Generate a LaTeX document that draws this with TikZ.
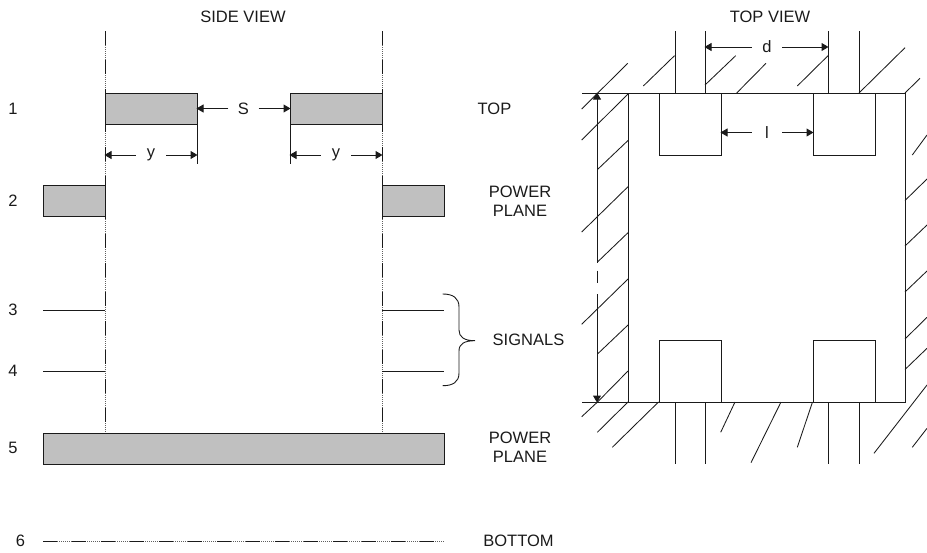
\documentclass[tikz,border=0pt]{standalone}
\usepackage{fontspec}
\setmainfont{Liberation Sans}
\usetikzlibrary{arrows.meta}
\definecolor{plane}{HTML}{C0C0C0}
\definecolor{ink}{HTML}{1A1A1A}
\tikzset{
  ln/.style={draw=ink,line width=1pt},
  hatch/.style={draw=ink,line width=0.85pt},
  gbox/.style={draw=ink,fill=plane,line width=1pt,inner sep=0pt,outer sep=0pt,anchor=north west},
  wbox/.style={draw=ink,line width=1pt,inner sep=0pt,outer sep=0pt,anchor=north west,minimum width=62pt,minimum height=62pt},
  lbl/.style={text=ink,font=\fontsize{16.5}{19}\selectfont,inner sep=0pt,align=center},
  dimlbl/.style={lbl,minimum width=30pt,minimum height=12pt},
  dim/.style={draw=ink,line width=1pt,-{Triangle[length=7pt,width=8pt]},shorten >=-0.5pt},
  fine/.style={draw=ink!70,line width=0.8pt,dash pattern=on 1pt off 1pt},
  coarse/.style={draw=ink,line width=1pt,dash pattern=on 14pt off 15pt}
}
\begin{document}
\begin{tikzpicture}[x=1pt,y=-1pt]
\useasboundingbox (0,0) rectangle (927,552);
% titles and labels
\node[lbl] (tside) at (243,16.5) {SIDE VIEW};
\node[lbl] (ttop) at (770,16.5) {TOP VIEW};
\node[lbl] (n1) at (13,108.5) {1};
\node[lbl] (n2) at (13,201) {2};
\node[lbl] (n3) at (13,310) {3};
\node[lbl] (n4) at (13,371) {4};
\node[lbl] (n5) at (13,448) {5};
\node[lbl] (n6) at (20.5,541) {6};
\node[lbl] (ltop) at (494.5,108.5) {TOP};
\node[lbl] (lpp1) at (520,201) {POWER\\PLANE};
\node[lbl] (lsig) at (528.5,340) {SIGNALS};
\node[lbl] (lpp2) at (520,447.5) {POWER\\PLANE};
\node[lbl] (lbot) at (518.5,541) {BOTTOM};
% side view guides
\coordinate (gl1) at (105,31); \coordinate (gl2) at (105,433);
\coordinate (gr1) at (382,31); \coordinate (gr2) at (382,433);
\draw[fine] (gl1) -- (gl2); \draw[coarse] (gl1) -- (gl2);
\draw[fine] (gr1) -- (gr2); \draw[coarse] (gr1) -- (gr2);
% side view planes
\node[gbox,minimum width=92pt,minimum height=31pt] (b1l) at (105,93) {};
\node[gbox,minimum width=92pt,minimum height=31pt] (b1r) at (290,93) {};
\node[gbox,minimum width=62pt,minimum height=31pt] (b2l) at (43,185) {};
\node[gbox,minimum width=62pt,minimum height=31pt] (b2r) at (382,185) {};
\node[gbox,minimum width=401pt,minimum height=31pt] (b5) at (43,433) {};
% signal lines
\coordinate (s3a) at (43,310); \coordinate (s3b) at (105,310);
\coordinate (s3c) at (382,310); \coordinate (s3d) at (444,310);
\coordinate (s4a) at (43,371); \coordinate (s4b) at (105,371);
\coordinate (s4c) at (382,371); \coordinate (s4d) at (444,371);
\draw[ln] (s3a) -- (s3b); \draw[ln] (s3c) -- (s3d);
\draw[ln] (s4a) -- (s4b); \draw[ln] (s4c) -- (s4d);
% bottom layer
\coordinate (s6a) at (43,541); \coordinate (s6b) at (445,541);
\draw[fine] (s6a) -- (s6b); \draw[coarse] (s6a) -- (s6b);
% brace
\draw[draw=ink,line width=0.9pt] (442.7,294) .. controls (453,294) and (459,298) .. (459,307)
  -- (459,330) .. controls (459,337) and (464,340.7) .. (475,340.7)
  .. controls (464,340.7) and (459,344) .. (459,351)
  -- (459,373) .. controls (459,382) and (453,385.7) .. (442.7,385.7);
% side view dimensions
\node[dimlbl] (S) at (243.5,108.5) {S};
\draw[dim] (S) -- (b1l.east |- S);
\draw[dim] (S) -- (b1r.west |- S);
\coordinate (t1) at (197,164); \coordinate (t2) at (290,164);
\draw[ln] (b1l.south east) -- (t1);
\draw[ln] (b1r.south west) -- (t2);
\node[dimlbl] (y1) at (151,155) {y};
\draw[dim] (y1) -- (b1l.west |- y1);
\draw[dim] (y1) -- (t1 |- y1);
\node[dimlbl] (y2) at (336,155) {y};
\draw[dim] (y2) -- (t2 |- y2);
\draw[dim] (y2) -- (b1r.east |- y2);
% top view frame
\coordinate (ftl) at (582,93); \coordinate (ftr) at (905,93);
\coordinate (fbl) at (582,402); \coordinate (fbr) at (905,402);
\coordinate (wt) at (628,93); \coordinate (wb) at (628,402);
\draw[ln] (ftl) -- (ftr) -- (fbr) -- (fbl);
\draw[ln] (wt) -- (wb);
% pads
\node[wbox] (p1) at (659,93) {};
\node[wbox] (p2) at (813,93) {};
\node[wbox] (p3) at (659,340) {};
\node[wbox] (p4) at (813,340) {};
% traces
\coordinate (a1) at (675,31); \coordinate (a2) at (705,31);
\coordinate (a3) at (828,31); \coordinate (a4) at (859,31);
\coordinate (a5) at (675,93); \coordinate (a6) at (705,93);
\coordinate (a7) at (828,93); \coordinate (a8) at (859,93);
\coordinate (c1) at (675,402); \coordinate (c2) at (705,402);
\coordinate (c3) at (828,402); \coordinate (c4) at (859,402);
\coordinate (c5) at (675,464); \coordinate (c6) at (705,464);
\coordinate (c7) at (828,464); \coordinate (c8) at (859,464);
\draw[ln] (a1) -- (a5); \draw[ln] (a2) -- (a6); \draw[ln] (a3) -- (a7); \draw[ln] (a4) -- (a8);
\draw[ln] (c1) -- (c5); \draw[ln] (c2) -- (c6); \draw[ln] (c3) -- (c7); \draw[ln] (c4) -- (c8);
% hatching
\foreach \xa/\ya/\xb/\yb in {
 581.7/109/627.7/63.3, 581.7/140/628/94, 597.5/169.5/628/140.5, 581.7/232/628/186.7,
 597.5/262/628/232.7, 581.7/324.3/628/279, 597.5/354/628/325, 597.5/402/628/371,
 581.7/416.7/597.5/402, 597.3/432.3/628/402, 612.3/447.3/658.5/402,
 720.7/432.3/735/402, 751/462.7/781/402, 797.3/447.3/812.5/402,
 874/453.3/927/385, 912.3/447.3/927/428.3,
 643.3/86/674.5/55.7, 705/85/735.7/55.7, 736.7/93/766/63.3, 797.3/86/828/55.7,
 859/93/905/47.7, 905/93/920/78.3,
 912.3/155/927/135, 905/200.5/927/179, 905/246/927/225, 905/292/927/271,
 905/339/927/317.3, 905/369.5/927/348.3}{
  \draw[hatch] (\xa,\ya) -- (\xb,\yb);
}
% top view dimensions
\node[dimlbl] (d) at (767,47) {d};
\draw[dim] (d) -- (a2 |- d);
\draw[dim] (d) -- (a3 |- d);
\node[dimlbl] (l) at (767,132.5) {l};
\draw[dim] (l) -- (p1.east |- l);
\draw[dim] (l) -- (p2.west |- l);
% vertical dimension with its break
\coordinate (v1) at (597,93); \coordinate (v2) at (597,262.7);
\coordinate (v3) at (597,270.7); \coordinate (v4) at (597,283.3);
\coordinate (v5) at (597,294); \coordinate (v6) at (597,402);
\draw[dim] (v2) -- (v1);
\draw[ln] (v3) -- (v4);
\draw[dim] (v5) -- (v6);
\end{tikzpicture}
\end{document}
